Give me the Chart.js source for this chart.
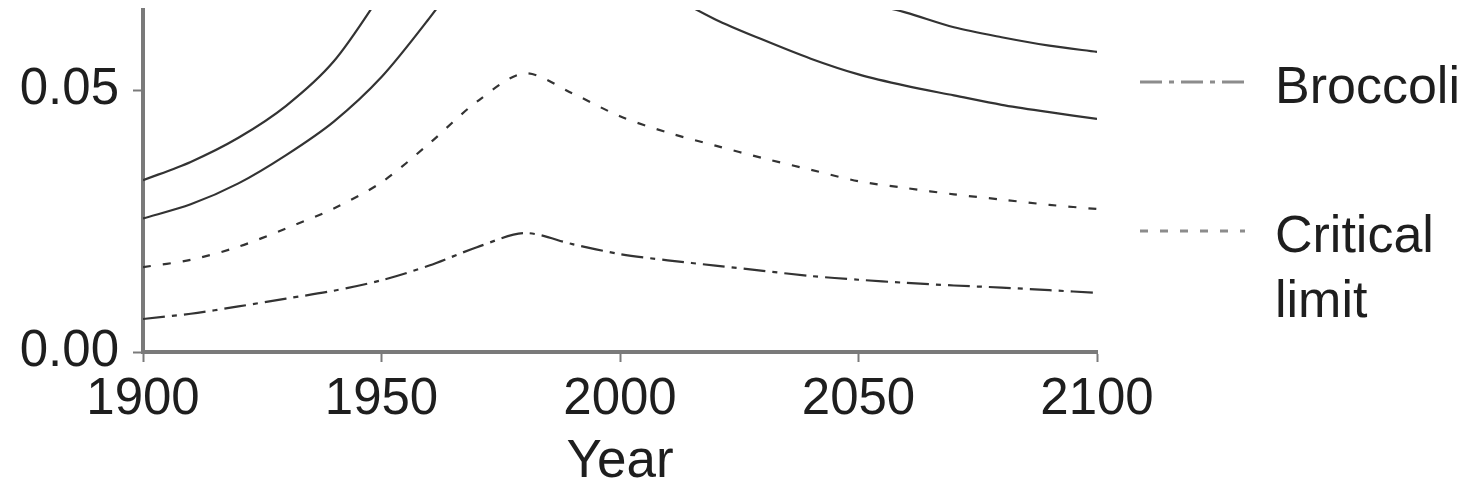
<!DOCTYPE html>
<html>
<head>
<meta charset="utf-8">
<script src="https://cdn.jsdelivr.net/npm/chart.js@4.4.1/dist/chart.umd.min.js"></script>
<style>
  body { margin: 0; background: #fff; }
  #wrap { width: 1478px; height: 496px; }
</style>
</head>
<body>
<div id="wrap"><canvas id="chart" width="1478" height="496"></canvas></div>
<script>
// Data
const years = [1900, 1910, 1920, 1930, 1940, 1950, 1960, 1970, 1980, 1990, 2000,
               2010, 2020, 2030, 2040, 2050, 2060, 2070, 2080, 2090, 2100];
const upperSolid = [0.0328, 0.0363, 0.0409, 0.0470, 0.0555, 0.0685, 0.0830, 0.0980, 0.1090, 0.1010, 0.0920,
                    0.0855, 0.0800, 0.0755, 0.0710, 0.0672, 0.0648, 0.0620, 0.0601, 0.0585, 0.0573];
const lowerSolid = [0.0255, 0.0282, 0.0322, 0.0376, 0.0440, 0.0525, 0.0637, 0.0760, 0.0875, 0.0815, 0.0745,
                    0.0685, 0.0635, 0.0596, 0.0560, 0.0530, 0.0508, 0.0490, 0.0472, 0.0458, 0.0445];
const criticalLimit = [0.0162, 0.0176, 0.0201, 0.0236, 0.0274, 0.0324, 0.0398, 0.0478, 0.0532, 0.0494, 0.0450,
                       0.0419, 0.0394, 0.0370, 0.0348, 0.0326, 0.0313, 0.0301, 0.0291, 0.0281, 0.0273];
const broccoli = [0.0063, 0.0073, 0.0087, 0.0102, 0.0117, 0.0137, 0.0165, 0.0200, 0.0227, 0.0206, 0.0187,
                  0.0175, 0.0165, 0.0155, 0.0145, 0.0138, 0.0132, 0.0127, 0.0123, 0.0118, 0.0113];
const xTickValues = [1900, 1950, 2000, 2050, 2100];
const yTickValues = [0, 0.05];

const toPoints = vals => years.map((yr, i) => ({ x: yr, y: vals[i] }));

const FONT = '"Liberation Sans", Arial, sans-serif';
const AXIS_GRAY = '#7a7a7a';

// legend on the right, drawn with the dataset line styles
const sideLegend = {
    id: 'sideLegend',
    afterDraw(chart) {
        const ctx = chart.ctx;
        const area = chart.chartArea;
        const items = [
            { ds: 3, text: ['Broccoli'], y: 82 },
            { ds: 2, text: ['Critical', 'limit'], y: 231 }
        ];
        ctx.save();
        items.forEach(item => {
            const ds = chart.data.datasets[item.ds];
            ctx.strokeStyle = '#8c8c8c';
            ctx.lineWidth = 3;
            ctx.setLineDash(ds.borderDash || []);
            ctx.beginPath();
            ctx.moveTo(area.right + 43, item.y);
            ctx.lineTo(area.right + 148, item.y);
            ctx.stroke();
            ctx.setLineDash([]);
            ctx.fillStyle = '#1e1e1e';
            ctx.font = '52px ' + FONT;
            ctx.textBaseline = 'alphabetic';
            item.text.forEach((t, i) => {
                ctx.fillText(t, area.right + 178, item.y + 21 + i * 65);
            });
        });
        ctx.restore();
    }
};

const lineStyle = {
    borderColor: '#333333',
    borderWidth: 2.2,
    pointRadius: 0,
    tension: 0.3,
    fill: false,
    clip: 0
};

new Chart(document.getElementById('chart').getContext('2d'), {
    type: 'line',
    data: {
        datasets: [
            { ...lineStyle, label: 'Upper', data: toPoints(upperSolid) },
            { ...lineStyle, label: 'Lower', data: toPoints(lowerSolid) },
            { ...lineStyle, label: 'Critical limit', data: toPoints(criticalLimit), borderDash: [8, 12] },
            { ...lineStyle, label: 'Broccoli', data: toPoints(broccoli), borderDash: [22, 7, 5, 7] }
        ]
    },
    options: {
        responsive: false,
        animation: false,
        layout: { padding: { top: 10, right: 381, left: 0, bottom: 0 } },
        plugins: {
            legend: { display: false },
            tooltip: { enabled: false }
        },
        scales: {
            x: {
                type: 'linear',
                min: 1900,
                max: 2100,
                afterBuildTicks: scale => { scale.ticks = xTickValues.map(v => ({ value: v })); },
                afterFit: scale => { scale.height = 144; },
                ticks: {
                    color: '#1e1e1e',
                    font: { family: FONT, size: 51 },
                    padding: 7,
                    maxRotation: 0,
                    callback: v => String(v)
                },
                grid: {
                    drawOnChartArea: false,
                    drawTicks: true,
                    tickLength: 10,
                    tickColor: AXIS_GRAY,
                    tickWidth: 2
                },
                border: { display: true, color: AXIS_GRAY, width: 4 },
                title: {
                    display: true,
                    text: 'Year',
                    color: '#1e1e1e',
                    font: { family: FONT, size: 53 },
                    padding: { top: 0, bottom: 2 }
                }
            },
            y: {
                min: 0,
                max: 0.0653,
                afterBuildTicks: scale => { scale.ticks = yTickValues.map(v => ({ value: v })); },
                afterFit: scale => {
                    scale.width = 143;
                    scale.paddingTop = 0;
                    scale.paddingBottom = 0;
                },
                ticks: {
                    color: '#1e1e1e',
                    font: { family: FONT, size: 51 },
                    padding: 14,
                    callback: v => v.toFixed(2)
                },
                grid: {
                    drawOnChartArea: false,
                    drawTicks: true,
                    tickLength: 10,
                    tickColor: AXIS_GRAY,
                    tickWidth: 2
                },
                border: { display: true, color: AXIS_GRAY, width: 4 }
            }
        }
    },
    plugins: [sideLegend]
});
</script>
</body>
</html>
